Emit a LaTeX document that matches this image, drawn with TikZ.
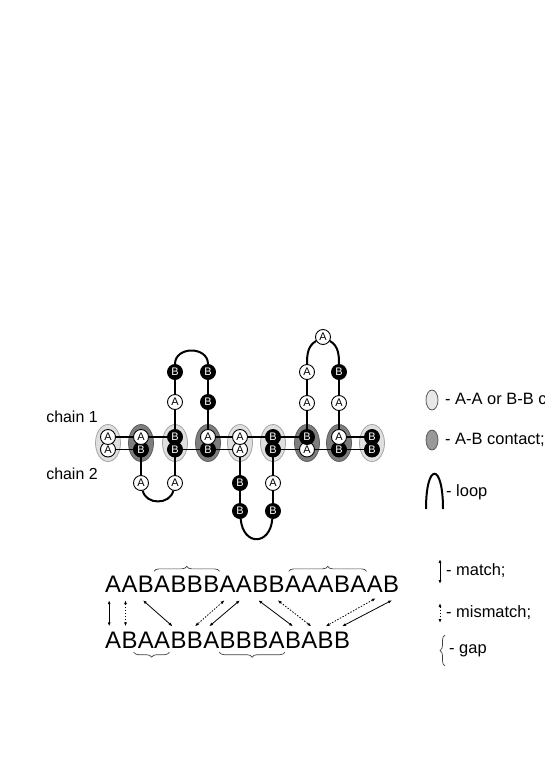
\documentclass[tikz,border=0pt]{standalone}
\usepackage{fontspec}
\setmainfont{Liberation Sans}
\usetikzlibrary{positioning,shapes.geometric,arrows.meta,decorations.pathreplacing}
\definecolor{samecol}{RGB}{224,224,224}
\definecolor{samerim}{RGB}{165,165,165}
\definecolor{diffcol}{RGB}{125,125,125}
\definecolor{diffrim}{RGB}{95,95,95}
\begin{document}
\begin{tikzpicture}[
    x=1bp, y=-1bp,
    resA/.style={circle, draw=black, fill=white, line width=0.9bp, inner sep=0pt,
      minimum size=15bp, font=\fontsize{11}{11}\selectfont},
    resB/.style={resA, fill=black, text=white},
    same/.style={ellipse, draw=samerim, fill=samecol, line width=0.8bp, inner sep=0pt,
      minimum width=25bp, minimum height=37bp},
    diff/.style={same, draw=diffrim, fill=diffcol},
    bond/.style={draw=black, line width=1.7bp},
    loopline/.style={draw=black, line width=2bp},
    lbl/.style={font=\fontsize{16}{18}\selectfont, inner sep=0pt},
    key/.style={font=\fontsize{16.5}{18}\selectfont, inner sep=0pt, anchor=west},
    seq/.style={font=\fontsize{24}{24}\selectfont, inner sep=0pt},
    match/.style={draw=black, line width=0.8bp,
      {Latex[length=4bp,width=3bp]}-{Latex[length=4bp,width=3bp]}},
    mismatch/.style={match, dash pattern=on 1.5bp off 1.5bp},
    gap/.style={draw=black!75, line width=0.7bp, decorate, decoration={brace, amplitude=5bp}}]

    \useasboundingbox (0,0) rectangle (545,770);

    % contacts
    \node[same] (p1) at (108,443) {};
    \node[diff] (p2) at (141,443) {};
    \node[same] (p3) at (175,443) {};
    \node[diff] (p4) at (208,443) {};
    \node[same] (p5) at (240,443) {};
    \node[same] (p6) at (273,443) {};
    \node[diff] (p7) at (307,443) {};
    \node[diff] (p8) at (339,443) {};
    \node[same] (p9) at (372,443) {};

    % chain 2
    \node[resA] (d1) at (108,449.5) {A};
    \node[resB] (d2) at (141,449.5) {B};
    \node[resB] (d3) at (175,449.5) {B};
    \node[resB] (d4) at (208,449.5) {B};
    \node[resA] (d5) at (240,449.5) {A};
    \node[resB] (d6) at (273,449.5) {B};
    \node[resA] (d7) at (307,449.5) {A};
    \node[resB] (d8) at (339,449.5) {B};
    \node[resB] (d9) at (372,449.5) {B};

    % chain 1
    \node[resA] (u1) at (108,437) {A};
    \node[resA] (u2) at (141,437) {A};
    \node[resB] (u3) at (175,437) {B};
    \node[resA] (u4) at (208,437) {A};
    \node[resA] (u5) at (240,437) {A};
    \node[resB] (u6) at (273,437) {B};
    \node[resB] (u7) at (307,437) {B};
    \node[resA] (u8) at (339,437) {A};
    \node[resB] (u9) at (372,437) {B};

    % loops of chain 1
    \node[resA] (h1) at (175,402) {A};
    \node[resB] (h2) at (175,372) {B};
    \node[resB] (h3) at (208,372) {B};
    \node[resB] (h4) at (208,402) {B};
    \node[resA] (k1) at (307,403) {A};
    \node[resA] (k2) at (307,372) {A};
    \node[resA] (k3) at (323,337) {A};
    \node[resB] (k4) at (339,372) {B};
    \node[resA] (k5) at (339,403) {A};

    % loops of chain 2
    \node[resA] (g1) at (141,483) {A};
    \node[resA] (g2) at (175,483) {A};
    \node[resB] (m1) at (240,483) {B};
    \node[resB] (m2) at (240,511) {B};
    \node[resB] (m3) at (273,511) {B};
    \node[resA] (m4) at (273,483) {A};

    \draw[bond] (u1)--(u2)--(u3)--(h1)--(h2);
    \draw[loopline] (h2) .. controls (175,346) and (208,346) .. (h3);
    \draw[bond] (h3)--(h4)--(u4)--(u5)--(u6)--(u7)--(k1)--(k2);
    \draw[loopline] (k2) to[out=90,in=210] (k3);
    \draw[loopline] (k3) to[out=-30,in=90] (k4);
    \draw[bond] (k4)--(k5)--(u8)--(u9);

    \draw[bond] (d1)--(d2)--(g1);
    \draw[loopline] (g1) .. controls (146,505) and (170,505) .. (g2);
    \draw[bond] (g2)--(d3)--(d4)--(d5)--(m1)--(m2);
    \draw[loopline] (m2) .. controls (243,546) and (270,546) .. (m3);
    \draw[bond] (m3)--(m4)--(d6)--(d7)--(d8)--(d9);

    \node[lbl] (lab1) at (72,417) {chain 1};
    \node[lbl] (lab2) at (72,474) {chain 2};

    % sequences
    \node[seq, anchor=base west] (t1) at (105,592) {A};
    \foreach \ch [count=\i from 2, remember=\i as \j (initially 1)] in
        {A,B,A,B,B,B,A,A,B,B,A,A,A,B,A,A,B}
      \node[seq, base right=0pt of t\j] (t\i) {\ch};
    \node[seq, anchor=base west] (b1) at (105,648) {A};
    \foreach \ch [count=\i from 2, remember=\i as \j (initially 1)] in
        {B,A,A,B,B,A,B,B,B,A,B,A,B,B}
      \node[seq, base right=0pt of b\j] (b\i) {\ch};

    \draw[match] ([xshift=-4bp,yshift=-8bp]t1.south) -- ([xshift=-4bp,yshift=5bp]b1.north);
    \draw[mismatch] ([xshift=-4bp,yshift=-8bp]t2.south) -- ([xshift=-4bp,yshift=5bp]b2.north);
    \draw[match] ([xshift=-3bp,yshift=-8bp]t3.south) -- ([xshift=-6bp,yshift=5bp]b5.north);
    \draw[mismatch] ([xshift=-3bp,yshift=-8bp]t8.south) -- ([yshift=5bp]b6.north);
    \draw[match] ([xshift=-4bp,yshift=-8bp]t9.south) -- ([xshift=-2bp,yshift=5bp]b7.north);
    \draw[match] ([xshift=-2bp,yshift=-8bp]t10.south) -- ([yshift=5bp]b12.north);
    \draw[mismatch] ([xshift=1bp,yshift=-8bp]t11.south) -- ([xshift=2bp,yshift=5bp]b13.north);
    \draw[mismatch] ([xshift=1bp,yshift=-6bp]t17.south) -- ([yshift=5bp]b14.north);
    \draw[match] ([xshift=1bp,yshift=-8bp]t18.south) -- ([yshift=5bp]b15.north);

    \draw[gap] ([yshift=4bp]t4.north west) -- ([yshift=4bp]t7.north east);
    \draw[gap] ([xshift=4bp,yshift=4bp]t12.north west) -- ([yshift=4bp]t16.north east);
    \draw[gap] ([xshift=-1bp,yshift=-4bp]b4.south east) -- ([xshift=-4bp,yshift=-4bp]b3.south west);
    \draw[gap] ([yshift=-4bp]b11.south east) -- ([yshift=-4bp]b8.south west);

    % key
    \node[same, minimum width=12bp, minimum height=20bp, draw=black!65, fill=black!9] (key1) at (432,400) {};
    \node[key] (key1t) at (445,400) {- A-A or B-B contact;};
    \node[diff, minimum width=12bp, minimum height=20bp, draw=black!65, fill=black!40] (key2) at (432,440) {};
    \node[key] (key2t) at (445,440) {- A-B contact;};
    \coordinate (arc1) at (426,509);
    \coordinate (arc2) at (443,509);
    \draw[loopline] (arc1) .. controls (426,462) and (443,462) .. (arc2);
    \node[key] (key3t) at (446,492) {- loop};

    \coordinate (ma1) at (440,559);
    \coordinate (ma2) at (440,584);
    \draw[match] (ma1) -- (ma2);
    \node[key] (key4t) at (446,571) {- match;};
    \coordinate (mm1) at (440,603);
    \coordinate (mm2) at (440,623);
    \draw[mismatch] (mm1) -- (mm2);
    \node[key] (key5t) at (446,613) {- mismatch;};
    \coordinate (ga1) at (445,666);
    \coordinate (ga2) at (445,635);
    \draw[gap] (ga1) -- (ga2);
    \node[key] (key6t) at (449,651) {- gap};
  \end{tikzpicture}
\end{document}
